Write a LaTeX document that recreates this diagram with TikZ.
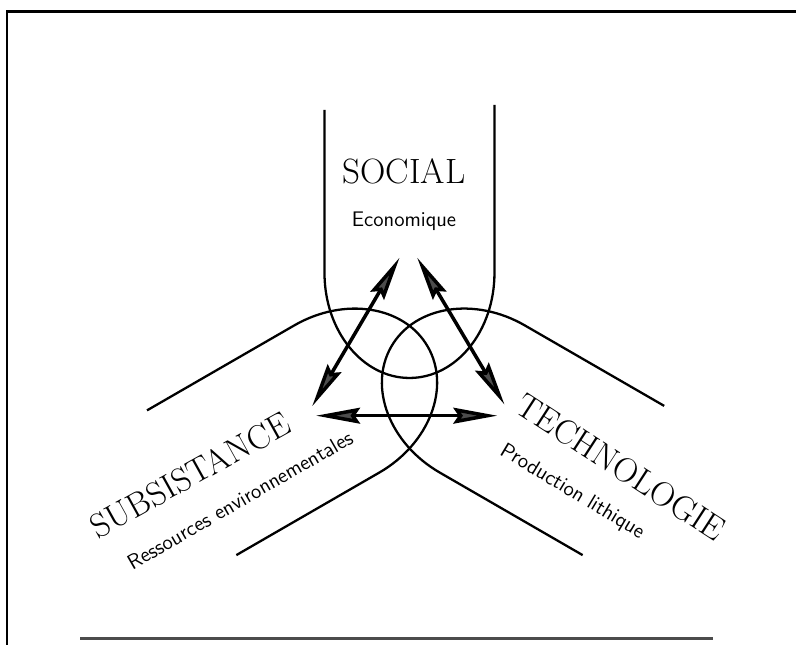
\documentclass[tikz,border=0pt]{standalone}
\usepackage{fontspec}
\usepackage{tikz}
\usetikzlibrary{shapes,positioning,arrows,arrows.meta,calc}

\tikzset{head/.tip={Stealth[length=25pt, width=9pt, inset=3pt, fill=black!70, sep=2.5pt]}}

\begin{document}
\begin{tikzpicture}[x=0.02cm, y=0.02cm,
			every node/.style={on grid, inner sep=0pt},
			lobe/.style={line width=1.3pt},
			frame/.style={line width=1.7pt},
			big/.style={font=\addfontfeatures{FakeBold=0.6}\fontsize{19.5}{22}\selectfont},
			small/.style={font=\sffamily\addfontfeatures{FakeBold=0.8}\fontsize{12}{14}\selectfont},
			link/.style={line width=2pt, arrows={head-head}},
			node distance=1cm]
			\useasboundingbox (0,0) rectangle (796,645);
			\draw[frame] (7,0) -- (7,633) -- (796,633);
			\draw[frame, black!70] (80,6) -- (713,6);
			
			\coordinate (c) at (409.5,288);
			\foreach \rot/\la/\lb in {0/247/252, 120/249/254, 240/245/249}
				\draw[lobe, shift={(c)}, rotate=\rot] (-85,\la) -- (-85,84) arc[start angle=180, end angle=360, x radius=1.7cm, y radius=2.1cm] -- (85,\lb);
			
			\node[big, font=\addfontfeatures{FakeBold=0.6}\fontsize{20}{22}\selectfont] (soc) at (404,473.5) {SOCIAL};
			\node[small, below= of soc] (eco) {Economique};
			
			\node[big, rotate=29] (sub) at (190,170) {SUBSISTANCE};
			\node[small, rotate=30] (res) at (240,145) {Ressources environnementales};
			
			\node[big, rotate=-33] (tec) at (621,178) {TECHNOLOGIE};
			\node[small, rotate=-31] (prod) at (572,153) {Production lithique};
			
			\coordinate (el) at (401.7,391);
			\coordinate (er) at (415,391);
			\coordinate (sa) at (310,235);
			\coordinate (sb) at (311.7,229.3);
			\coordinate (ta) at (506.7,236.7);
			\coordinate (tb) at (501.7,229.3);
			
			\draw[link] (el) -- (sa);
			\draw[link] (er) -- (ta);
			\draw[link] (sb) -- (tb);
		\end{tikzpicture}
\end{document}
